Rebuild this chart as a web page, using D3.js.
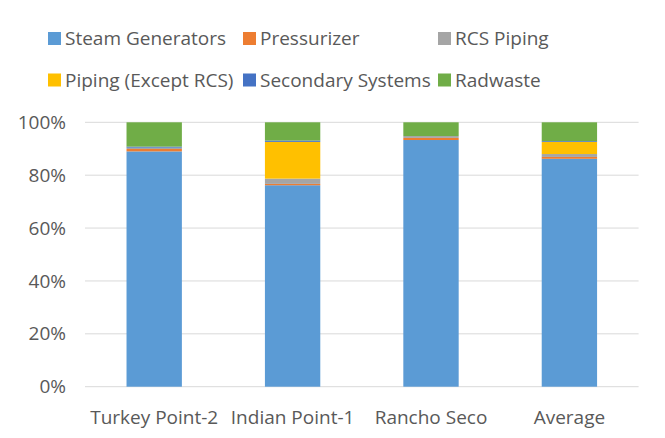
<!DOCTYPE html>
<html><head><meta charset="utf-8">
<script src="https://cdn.jsdelivr.net/npm/d3@7"></script>
<style>body{margin:0;background:#fff;}svg{display:block;}</style>
</head><body>
<svg id="chart" width="665" height="438"></svg>
<script>
const categories = ["Turkey Point-2", "Indian Point-1", "Rancho Seco", "Average"];
const seriesNames = ["Steam Generators", "Pressurizer", "RCS Piping", "Piping (Except RCS)", "Secondary Systems", "Radwaste"];
const steamGenerators = [89.0, 76.2, 93.3, 86.2];
const pressurizer = [0.9, 0.5, 0.8, 0.7];
const rcsPiping = [0.5, 2.0, 0.7, 1.1];
const pipingExceptRCS = [0.0, 13.9, 0.0, 4.6];
const secondarySystems = [0.4, 0.5, 0.0, 0.3];
const radwaste = [9.2, 6.9, 5.2, 7.1];
const yTicks = [0, 20, 40, 60, 80, 100];
const colors = ["#5B9BD5", "#ED7D31", "#A5A5A5", "#FFC000", "#4472C4", "#70AD47"];

(function () {
const seriesValues = [steamGenerators, pressurizer, rcsPiping, pipingExceptRCS, secondarySystems, radwaste];
const rows = categories.map((c, i) => {
  const r = {category: c};
  seriesNames.forEach((s, j) => r[s] = seriesValues[j][i]);
  return r;
});
const stacked = d3.stack().keys(seriesNames).offset(d3.stackOffsetExpand)(rows);

const svg = d3.select("#chart");
const font = "'Open Sans', sans-serif";
const textColor = "#595959";
const mLeft = 85, mRight = 638.6, mTop = 122.3, mBottom = 386.7;

const x = d3.scaleBand().domain(categories).range([mLeft, mRight]).paddingInner(0.6).paddingOuter(0.3);
const y = d3.scaleLinear().domain([0, 1]).range([mBottom, mTop]);

svg.append("g").selectAll("line").data(yTicks).join("line")
  .attr("x1", mLeft).attr("x2", mRight)
  .attr("y1", d => y(d / 100)).attr("y2", d => y(d / 100))
  .attr("stroke", "#D9D9D9").attr("stroke-width", 1);

svg.append("g").selectAll("g").data(stacked).join("g")
  .attr("fill", (d, i) => colors[i])
  .selectAll("rect").data(d => d).join("rect")
  .attr("x", d => x(d.data.category))
  .attr("width", x.bandwidth())
  .attr("y", d => y(d[1]))
  .attr("height", d => y(d[0]) - y(d[1]));

const yAxis = d3.axisLeft(y).tickValues(yTicks.map(t => t / 100)).tickFormat(d3.format(".0%")).tickSize(0).tickPadding(19);
const ya = svg.append("g").attr("transform", `translate(${mLeft},0)`).call(yAxis);
ya.select(".domain").remove();
ya.selectAll("text").attr("font-family", font).attr("font-size", 19).attr("fill", textColor);

const xAxis = d3.axisBottom(x).tickSize(0).tickPadding(24);
const xa = svg.append("g").attr("transform", `translate(0,${mBottom})`).call(xAxis);
xa.select(".domain").remove();
xa.selectAll("text").attr("font-family", font).attr("font-size", 19).attr("fill", textColor);

const legendX = d3.scalePoint().domain([0, 1, 2]).range([48, 438]);
const legendY = d3.scalePoint().domain([0, 1]).range([38.5, 80]);
const lg = svg.append("g").selectAll("g").data(seriesNames).join("g")
  .attr("transform", (d, i) => `translate(${legendX(i % 3)},${legendY(Math.floor(i / 3))})`);
lg.append("rect").attr("x", 0).attr("y", -6.5).attr("width", 13).attr("height", 13)
  .attr("fill", (d, i) => colors[i]);
lg.append("text").attr("x", 17).attr("y", 0).attr("dy", "0.36em")
  .attr("font-family", font).attr("font-size", 19).attr("fill", textColor)
  .text(d => d);
})();
</script>
</body></html>
